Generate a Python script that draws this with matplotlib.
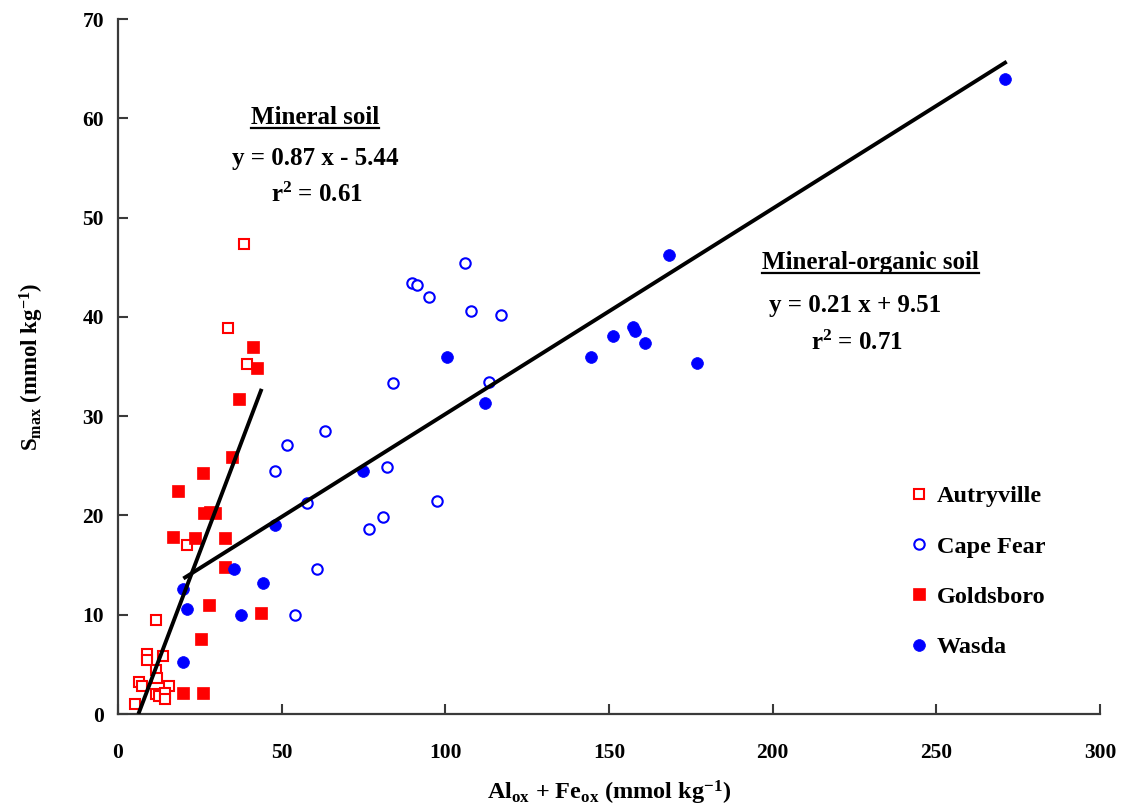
import matplotlib
matplotlib.use('Agg')
import matplotlib.pyplot as plt
from matplotlib.lines import Line2D
import numpy as np

plt.rcParams['font.family'] = ['Liberation Serif', 'DejaVu Serif']
plt.rcParams['font.weight'] = 'bold'
plt.rcParams['mathtext.fontset'] = 'custom'
plt.rcParams['mathtext.rm'] = 'Liberation Serif:bold'
plt.rcParams['mathtext.it'] = 'Liberation Serif:bold'
plt.rcParams['mathtext.bf'] = 'Liberation Serif:bold'

# --- data ---
autry_x = [38.5, 33.5, 39.5, 21.0, 11.5, 9.0, 9.0, 13.8, 11.5, 12.0, 6.5, 7.5, 15.5,
           11.5, 12.5, 14.5, 14.5, 5.3]
autry_y = [47.3, 38.9, 35.3, 17.0, 9.5, 6.0, 5.4, 5.8, 4.4, 3.6, 3.2, 2.8, 2.8,
           2.0, 1.8, 2.1, 1.5, 1.0]

cape_x = [105.9, 89.9, 91.3, 94.9, 107.9, 116.9, 83.9, 113.3, 63.2, 51.6, 47.9, 82.1,
          57.7, 97.4, 80.9, 76.6, 60.7, 54.0]
cape_y = [45.4, 43.4, 43.2, 42.0, 40.6, 40.2, 33.3, 33.4, 28.5, 27.1, 24.5, 24.9,
          21.3, 21.5, 19.8, 18.6, 14.6, 10.0]

golds_x = [41.2, 42.4, 36.9, 35.0, 25.9, 18.5, 26.4, 28.0, 29.6, 16.7, 23.5, 32.6,
           32.6, 27.7, 43.6, 25.3, 19.8, 25.9]
golds_y = [37.0, 34.9, 31.7, 25.9, 24.3, 22.5, 20.2, 20.4, 20.2, 17.8, 17.7, 17.7,
           14.8, 11.0, 10.2, 7.6, 2.1, 2.1]

wasda_x = [271.0, 168.3, 157.3, 158.0, 151.1, 161.0, 144.4, 176.8, 100.4, 112.0,
           74.8, 48.0, 35.6, 44.2, 37.5, 19.8, 21.0, 19.8]
wasda_y = [64.0, 46.2, 39.0, 38.6, 38.1, 37.4, 36.0, 35.4, 36.0, 31.3,
           24.5, 19.0, 14.6, 13.2, 10.0, 12.6, 10.6, 5.2]

# regression lines (slope, intercept, x range)
min_slope, min_int = 0.87, -5.44
min_xr = np.array([6.25, 43.9])
org_slope, org_int = 0.207, 9.51
org_xr = np.array([20.0, 271.5])

xticks = [0, 50, 100, 150, 200, 250, 300]
yticks = [0, 10, 20, 30, 40, 50, 60, 70]

fig = plt.figure(figsize=(11.23, 8.09), dpi=100)
ax = fig.add_axes([0.105, 0.1174, 0.8745, 0.859])

red = '#ff0000'
blue = '#0000ff'
ax.plot(autry_x, autry_y, 's', ls='none', ms=7, mfc='white', mec=red, mew=1.5,
        label='Autryville', zorder=3)
ax.plot(cape_x, cape_y, 'o', ls='none', ms=7.5, mfc='white', mec=blue, mew=1.5,
        label='Cape Fear', zorder=3)
ax.plot(golds_x, golds_y, 's', ls='none', ms=8, mfc=red, mec=red, mew=0.5,
        label='Goldsboro', zorder=3)
ax.plot(wasda_x, wasda_y, 'o', ls='none', ms=8.5, mfc=blue, mec=blue, mew=0.5,
        label='Wasda', zorder=3)

ax.plot(min_xr, min_slope * min_xr + min_int, color='black', lw=2.8, zorder=4,
        solid_capstyle='butt')
ax.plot(org_xr, org_slope * org_xr + org_int, color='black', lw=2.8, zorder=4,
        solid_capstyle='butt')

ax.set_xlim(0, 300)
ax.set_ylim(0, 70)
ax.set_xticks(xticks)
ax.set_yticks(yticks)
for s in ['top', 'right']:
    ax.spines[s].set_visible(False)
for s in ['left', 'bottom']:
    ax.spines[s].set_color('#3a3a3a')
    ax.spines[s].set_linewidth(1.6)
ax.tick_params(direction='in', length=7, width=1.5, color='#3a3a3a', labelsize=15.5)
ax.tick_params(axis='x', pad=21)
ax.tick_params(axis='y', pad=10)
for lab in ax.get_xticklabels() + ax.get_yticklabels():
    lab.set_fontweight('bold')

ax.set_xlabel(r'Al$_{\mathrm{ox}}$ + Fe$_{\mathrm{ox}}$ (mmol kg$^{\mathrm{-1}}$)',
              fontsize=17.5, fontweight='bold', labelpad=11)
ax.set_ylabel(r'S$_{\mathrm{max}}$ (mmol kg$^{\mathrm{-1}}$)',
              fontsize=16.5, fontweight='bold', labelpad=26)

fs = 18
t1 = ax.text(60.2, 60.1, 'Mineral soil', ha='center', va='center', fontsize=fs,
             fontweight='bold')
ax.text(60.2, 56.0, 'y = 0.87 x - 5.44', ha='center', va='center', fontsize=fs,
        fontweight='bold')
ax.text(60.8, 52.3, r'r$^{2}$ = 0.61', ha='center', va='center', fontsize=fs,
        fontweight='bold')
t2 = ax.text(229.8, 45.5, 'Mineral-organic soil', ha='center', va='center',
             fontsize=fs, fontweight='bold')
ax.text(225.2, 41.1, 'y = 0.21 x + 9.51', ha='center', va='center', fontsize=fs,
        fontweight='bold')
ax.text(225.8, 37.4, r'r$^{2}$ = 0.71', ha='center', va='center', fontsize=fs,
        fontweight='bold')

leg = ax.legend(loc='upper left', bbox_to_anchor=(0.797, 0.343), frameon=False,
                prop={'size': 17.5, 'weight': 'bold'}, labelspacing=1.16,
                handlelength=0.7, handletextpad=0.4, borderaxespad=0)

# underline the two headings
fig.canvas.draw()
inv = fig.transFigure.inverted()
for t in (t1, t2):
    bb = t.get_window_extent()
    (x0, y0), (x1, _) = inv.transform([[bb.x0, bb.y0], [bb.x1, bb.y1]])
    fig.add_artist(Line2D([x0, x1], [y0 + 0.001, y0 + 0.001], color='black',
                          lw=1.6, transform=fig.transFigure))

fig.savefig('out.png', dpi=100)
